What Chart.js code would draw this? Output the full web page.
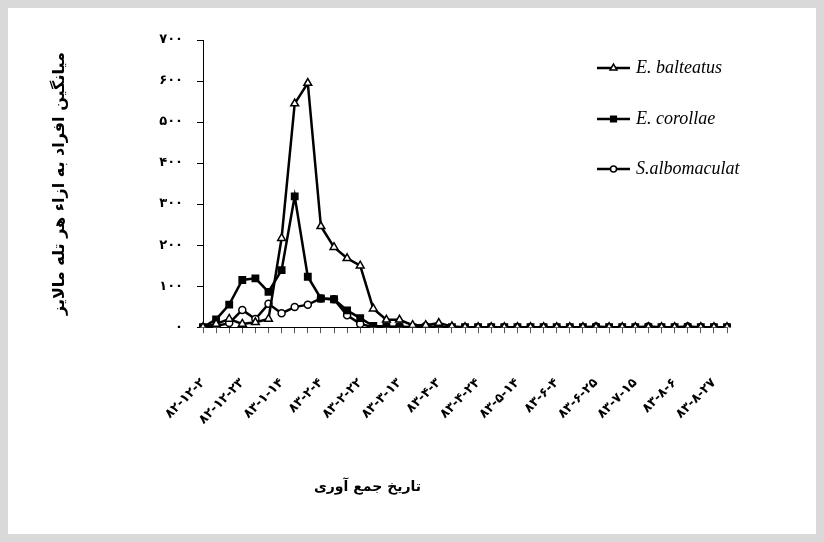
<!DOCTYPE html>
<html>
<head>
<meta charset="utf-8">
<script src="https://cdn.jsdelivr.net/npm/chart.js@4/dist/chart.umd.min.js"></script>
<style>
  html, body { margin: 0; padding: 0; background: #d9d9d9; }
  #wrap { position: absolute; left: 8px; top: 8px; width: 808px; height: 526px; background: #fff; }
</style>
</head>
<body>
<div id="wrap"><canvas id="myChart" width="808" height="526"></canvas></div>
<script>
// sampling dates (only every third one is labelled on the axis)
const dates = [
  '۸۲-۱۲-۲', '', '', '۸۲-۱۲-۲۳', '', '', '۸۳-۱-۱۴', '', '', '۸۳-۲-۴', '', '',
  '۸۳-۲-۲۲', '', '', '۸۳-۳-۱۳', '', '', '۸۳-۴-۳', '', '', '۸۳-۴-۲۴', '', '',
  '۸۳-۵-۱۴', '', '', '۸۳-۶-۴', '', '', '۸۳-۶-۲۵', '', '', '۸۳-۷-۱۵', '', '',
  '۸۳-۸-۶', '', '', '۸۳-۸-۲۷', ''
];

const balteatus = [0, 8, 20, 8, 12, 20, 217, 545, 595, 246, 195, 168, 150, 45, 18,
  18, 5, 5, 10, 2, 0, 0, 0, 0, 0, 0, 0, 0, 0, 0, 0, 0, 0, 0, 0, 0, 0, 0, 0, 0, 0];
const corollae = [0, 19, 55, 115, 119, 86, 139, 319, 123, 70, 68, 41, 22, 3, 2,
  0, 0, 0, 0, 0, 0, 0, 0, 0, 0, 0, 0, 0, 0, 0, 0, 0, 0, 0, 0, 0, 0, 0, 0, 0, 0];
const albomaculat = [0, 3, 10, 42, 20, 57, 34, 49, 55, 70, 68, 29, 8, 0, 0,
  2, 0, 3, 0, 0, 0, 0, 0, 0, 0, 0, 0, 0, 0, 0, 2, 0, 0, 0, 2, 0, 0, 2, 0, 0, 0];

const seriesNames = ['E. balteatus', 'E. corollae', 'S.albomaculat'];
const yTicks = [0, 100, 200, 300, 400, 500, 600, 700];

const faDigits = '۰۱۲۳۴۵۶۷۸۹';
function toFa(n) {
  return String(n).replace(/[0-9]/g, d => faDigits[d]);
}

// legend drawn inside the plot, upper right
const innerLegend = {
  id: 'innerLegend',
  afterDraw(chart) {
    const ctx = chart.ctx;
    const x0 = 589, rows = [60, 111, 161];
    ctx.save();
    chart.data.datasets.forEach((ds, i) => {
      const y = rows[i];
      ctx.strokeStyle = '#000';
      ctx.lineWidth = 2.5;
      ctx.beginPath();
      ctx.moveTo(x0, y);
      ctx.lineTo(x0 + 33, y);
      ctx.stroke();
      ctx.fillStyle = ds.pointBackgroundColor;
      ctx.strokeStyle = '#000';
      ctx.lineWidth = 1.5;
      Chart.helpers.drawPoint(ctx, {
        pointStyle: ds.pointStyle,
        radius: ds.pointRadius - 0.5,
        borderWidth: 1.5
      }, x0 + 16.5, y);
      ctx.fillStyle = '#000';
      ctx.font = 'italic 18px "Liberation Serif"';
      ctx.textBaseline = 'middle';
      ctx.textAlign = 'left';
      ctx.fillText(ds.label, x0 + 39, y);
    });
    ctx.restore();
  }
};

function makeSet(label, data, style, fill, radius) {
  return {
    label: label,
    data: data,
    borderColor: '#000',
    borderWidth: 2.5,
    pointStyle: style,
    pointRadius: radius,
    pointBackgroundColor: fill,
    pointBorderColor: '#000',
    pointBorderWidth: 1.5,
    tension: 0
  };
}

var ctx = document.getElementById('myChart').getContext('2d');
var myChart = new Chart(ctx, {
  type: 'line',
  data: {
    labels: dates,
    datasets: [
      makeSet(seriesNames[0], balteatus, 'triangle', '#fff', 4.5),
      makeSet(seriesNames[1], corollae, 'rect', '#000', 4.5),
      makeSet(seriesNames[2], albomaculat, 'circle', '#fff', 3.5)
    ]
  },
  plugins: [innerLegend],
  options: {
    responsive: false,
    animation: false,
    layout: { padding: { left: 0, top: 32, right: 89, bottom: 0 } },
    plugins: {
      legend: { display: false },
      tooltip: { enabled: false },
      title: {
        display: true,
        position: 'bottom',
        text: 'تاریخ جمع آوری',
        color: '#000',
        font: { family: '"DejaVu Sans"', size: 14, weight: 'bold' },
        padding: { top: 10, bottom: 38 }
      }
    },
    scales: {
      x: {
        afterFit(scale) { scale.height = 142; },
        border: { color: '#000', width: 1 },
        grid: { display: true, drawOnChartArea: false, drawTicks: true, tickLength: 6, color: '#555' },
        ticks: {
          autoSkip: false,
          maxRotation: 45,
          minRotation: 45,
          padding: 42,
          color: '#000',
          font: { family: '"DejaVu Sans"', size: 13, weight: 'bold' },
          callback: function (v, i) { return dates[i].replace(/-/g, '\u200E-\u200E'); }
        }
      },
      y: {
        min: 0,
        max: 700,
        afterFit(scale) { scale.width = 195; },
        afterBuildTicks(scale) { scale.ticks = yTicks.map(v => ({ value: v })); },
        border: { color: '#000', width: 1 },
        grid: { display: true, drawOnChartArea: false, drawTicks: true, tickLength: 6, color: '#000' },
        ticks: {
          padding: 14,
          color: '#000',
          font: { family: '"DejaVu Sans"', size: 13, weight: 'bold' },
          callback: v => toFa(v)
        },
        title: {
          display: true,
          text: 'میانگین افراد به ازاء هر تله مالایز',
          color: '#000',
          font: { family: '"DejaVu Sans"', size: 16, weight: 'bold' },
          padding: { top: 42, bottom: 0 }
        }
      }
    }
  }
});
</script>
</body>
</html>
